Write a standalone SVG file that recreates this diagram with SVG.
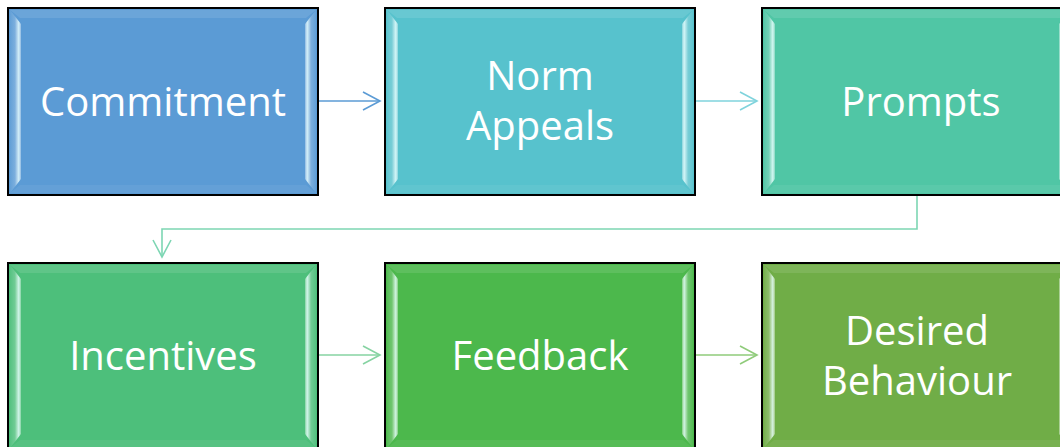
<svg xmlns="http://www.w3.org/2000/svg" xmlns:xlink="http://www.w3.org/1999/xlink" width="1060" height="447" viewBox="0 0 1060 447">
<style>
.box{stroke:#000;stroke-width:2}
.lbl{font-family:"Open Sans","Liberation Sans",sans-serif;font-size:40px;fill:#fff;text-anchor:middle}
.conn{fill:none;stroke-width:1.6}
</style>
<defs>
<linearGradient id="gl" x1="0" y1="0" x2="1" y2="0">
<stop offset="0" stop-color="#fff" stop-opacity="0.05"/>
<stop offset="0.45" stop-color="#fff" stop-opacity="0.2"/>
<stop offset="0.8" stop-color="#e8ffff" stop-opacity="0.85"/>
<stop offset="1" stop-color="#fff" stop-opacity="0.3"/>
</linearGradient>
<linearGradient id="gr" x1="1" y1="0" x2="0" y2="0">
<stop offset="0" stop-color="#fff" stop-opacity="0.05"/>
<stop offset="0.45" stop-color="#fff" stop-opacity="0.2"/>
<stop offset="0.8" stop-color="#e8ffff" stop-opacity="0.85"/>
<stop offset="1" stop-color="#fff" stop-opacity="0.3"/>
</linearGradient>
<g id="bevel">
<polygon points="2,2 308,2 298,10 12,10" fill="#fff" fill-opacity="0.1"/>
<polygon points="2,185 308,185 298,177 12,177" fill="#fff" fill-opacity="0.06"/>
<polygon points="2,2 13,16 13,171 2,185" fill="url(#gl)"/>
<polygon points="308,2 297,16 297,171 308,185" fill="url(#gr)"/>
</g>
<marker id="m1" markerUnits="userSpaceOnUse" markerWidth="22" markerHeight="22" refX="18" refY="10" orient="auto"><path d="M1,1 L18,10 L1,19" fill="none" stroke="#5B9BD5" stroke-width="1.6"/></marker>
<marker id="m2" markerUnits="userSpaceOnUse" markerWidth="22" markerHeight="22" refX="18" refY="10" orient="auto"><path d="M1,1 L18,10 L1,19" fill="none" stroke="#7FD3DC" stroke-width="1.6"/></marker>
<marker id="m3" markerUnits="userSpaceOnUse" markerWidth="22" markerHeight="22" refX="18" refY="10" orient="auto"><path d="M1,1 L18,10 L1,19" fill="none" stroke="#7DD6B3" stroke-width="1.6"/></marker>
<marker id="m4" markerUnits="userSpaceOnUse" markerWidth="22" markerHeight="22" refX="18" refY="10" orient="auto"><path d="M1,1 L18,10 L1,19" fill="none" stroke="#86D3A2" stroke-width="1.6"/></marker>
<marker id="m5" markerUnits="userSpaceOnUse" markerWidth="22" markerHeight="22" refX="18" refY="10" orient="auto"><path d="M1,1 L18,10 L1,19" fill="none" stroke="#8FCB7A" stroke-width="1.6"/></marker>
</defs>
<rect width="1060" height="447" fill="#fff"/>
<g id="connectors">
<path class="conn" d="M318,101 H380" stroke="#5B9BD5" marker-end="url(#m1)"/>
<path class="conn" d="M695,101 H757" stroke="#7FD3DC" marker-end="url(#m2)"/>
<path class="conn" d="M917,196 V229 H162 V257" stroke="#7DD6B3" marker-end="url(#m3)"/>
<path class="conn" d="M318,355 H380" stroke="#86D3A2" marker-end="url(#m4)"/>
<path class="conn" d="M695,355 H757" stroke="#8FCB7A" marker-end="url(#m5)"/>
</g>
<g id="commitment" transform="translate(8,8)">
<rect class="box" x="0" y="0" width="310" height="187" fill="#5B9BD5"/>
<use xlink:href="#bevel"/>
<text class="lbl" x="155" y="108">Commitment</text>
</g>
<g id="norm-appeals" transform="translate(385,8)">
<rect class="box" x="0" y="0" width="310" height="187" fill="#57C2CD"/>
<use xlink:href="#bevel"/>
<text class="lbl" x="155" y="82">Norm</text>
<text class="lbl" x="155" y="132">Appeals</text>
</g>
<g id="prompts" transform="translate(762,8)">
<rect class="box" x="0" y="0" width="310" height="187" fill="#50C6A5"/>
<use xlink:href="#bevel"/>
<text class="lbl" x="159" y="108">Prompts</text>
</g>
<g id="incentives" transform="translate(8,263)">
<rect class="box" x="0" y="0" width="310" height="187" fill="#4DBF7B"/>
<use xlink:href="#bevel"/>
<text class="lbl" x="155" y="107">Incentives</text>
</g>
<g id="feedback" transform="translate(385,263)">
<rect class="box" x="0" y="0" width="310" height="187" fill="#4CB84C"/>
<use xlink:href="#bevel"/>
<text class="lbl" x="155" y="107">Feedback</text>
</g>
<g id="desired-behaviour" transform="translate(762,263)">
<rect class="box" x="0" y="0" width="310" height="187" fill="#70AD47"/>
<use xlink:href="#bevel"/>
<text class="lbl" x="155" y="82">Desired</text>
<text class="lbl" x="155" y="132">Behaviour</text>
</g>
</svg>
